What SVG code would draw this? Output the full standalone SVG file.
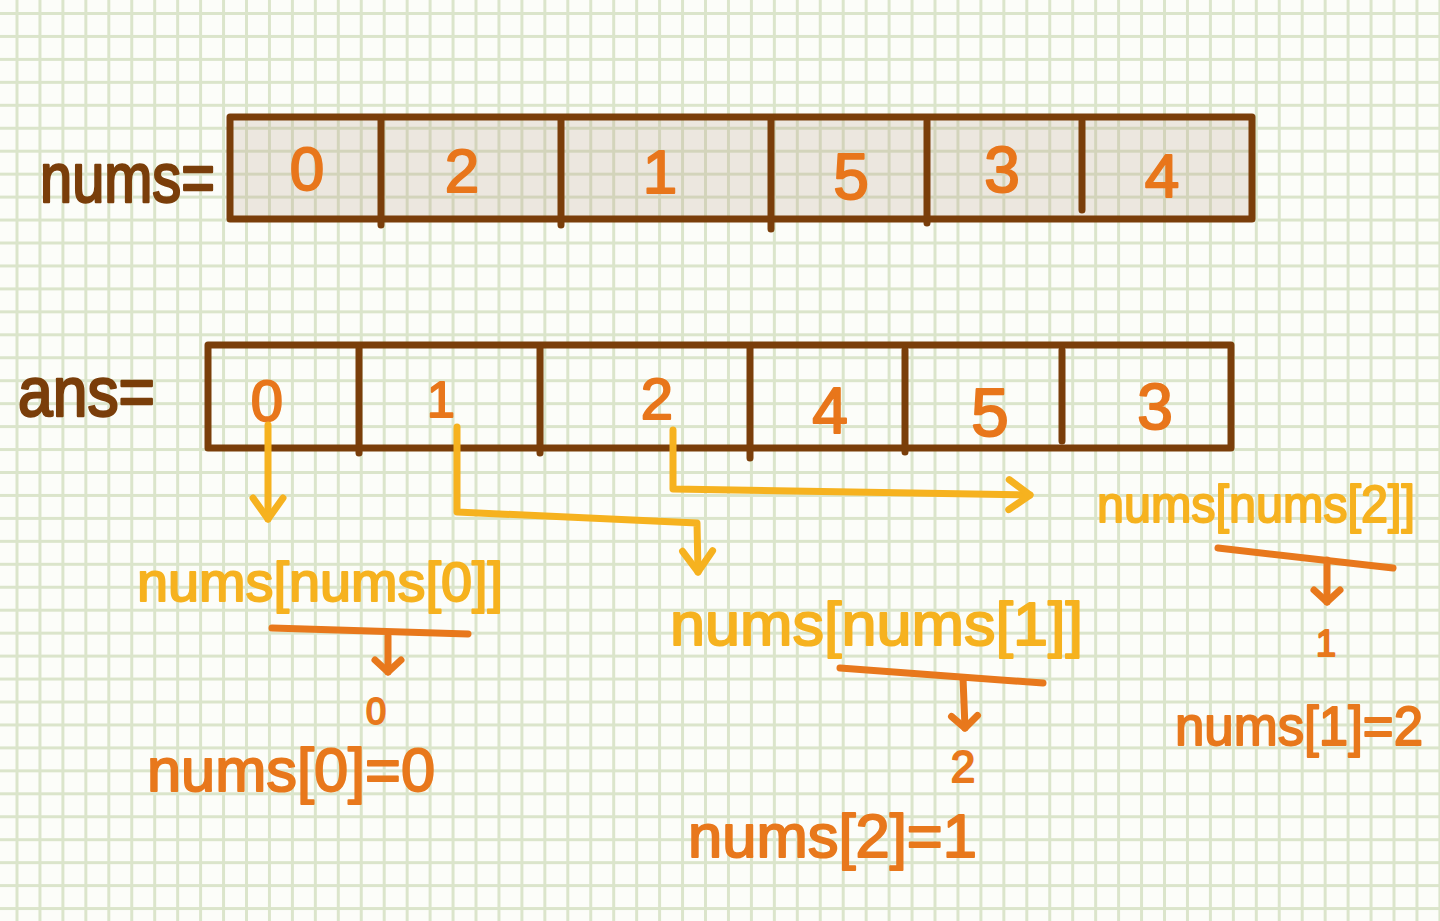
<svg xmlns="http://www.w3.org/2000/svg" width="1440" height="921" viewBox="0 0 1440 921">
  <defs>
    <pattern id="grid" patternUnits="userSpaceOnUse" x="5.525" y="2.025" width="22.95" height="22.95">
      <path d="M11.475,0 V22.95 M0,11.475 H22.95" stroke="#dbe5cb" stroke-width="3" fill="none"/>
    </pattern>
    <marker id="ah-amber" markerUnits="userSpaceOnUse" viewBox="-30 -20 40 40" refX="0" refY="0" markerWidth="40" markerHeight="40" orient="auto" overflow="visible">
      <path d="M-21,-15 L0,0 L-21,15" fill="none" stroke="#f6b21f" stroke-width="7" stroke-linecap="round" stroke-linejoin="round"/>
    </marker>
    <marker id="ah-orange" markerUnits="userSpaceOnUse" viewBox="-30 -20 40 40" refX="0" refY="0" markerWidth="40" markerHeight="40" orient="auto" overflow="visible">
      <path d="M-12,-13 L0,0 L-12,13" fill="none" stroke="#e8781c" stroke-width="7" stroke-linecap="round" stroke-linejoin="round"/>
    </marker>
  </defs>
  <style>
    .box { fill: none; stroke: #7a3e0a; stroke-width: 7; stroke-linecap: round; stroke-linejoin: round; }
    .shade { fill: #b49c82; fill-opacity: 0.22; }
    .lbl { font-family: "Liberation Sans", Arial, sans-serif; fill: #7a3e0a; stroke: #7a3e0a; stroke-width: 2.5; stroke-linejoin: round; }
    .dig { font-family: "Liberation Sans", Arial, sans-serif; fill: #e8761b; stroke: #e8761b; stroke-width: 2; stroke-linejoin: round; text-anchor: middle; }
    .expr { font-family: "Liberation Sans", Arial, sans-serif; fill: #f6b21f; stroke: #f6b21f; stroke-width: 2; stroke-linejoin: round; }
    .res { font-family: "Liberation Sans", Arial, sans-serif; fill: #e8781c; stroke: #e8781c; stroke-width: 2; stroke-linejoin: round; }
    .amber { fill: none; stroke: #f6b21f; stroke-width: 7; stroke-linecap: round; stroke-linejoin: round; }
    .orng { fill: none; stroke: #e8781c; stroke-width: 7; stroke-linecap: round; stroke-linejoin: round; }
  </style>

  <rect x="0" y="0" width="1440" height="921" fill="#fcfdf9"/>
  <rect x="0" y="0" width="1440" height="921" fill="url(#grid)"/>

  <g id="nums-array">
    <rect class="shade" x="230" y="117" width="1022" height="102"/>
    <rect class="box" x="230" y="117" width="1022" height="102"/>
    <path class="box" d="M381,119 V225 M561,119 V225 M771,119 V229 M927,121 V223 M1082,121 V210"/>
    <text class="dig" x="307" y="190" font-size="62">0</text>
    <text class="dig" x="462" y="192" font-size="62">2</text>
    <text class="dig" x="660" y="193" font-size="62">1</text>
    <text class="dig" x="851" y="199" font-size="64">5</text>
    <text class="dig" x="1002" y="192" font-size="64">3</text>
    <text class="dig" x="1162" y="197" font-size="62">4</text>
  </g>
  <g id="nums-label">
    <text class="lbl" x="40" y="202" font-size="70" textLength="175" lengthAdjust="spacingAndGlyphs">nums=</text>
  </g>

  <g id="ans-array">
    <rect class="box" x="208" y="345" width="1023" height="103"/>
    <path class="box" d="M359,347 V453 M540,347 V453 M750,347 V458 M905,350 V452 M1062,350 V441"/>
    <text class="dig" x="267" y="421" font-size="58">0</text>
    <text class="dig" x="441" y="417" font-size="50">1</text>
    <text class="dig" x="657" y="419" font-size="58">2</text>
    <text class="dig" x="830" y="433" font-size="64">4</text>
    <text class="dig" x="990" y="436" font-size="68">5</text>
    <text class="dig" x="1155" y="429" font-size="64">3</text>
  </g>
  <g id="ans-label">
    <text class="lbl" x="18" y="416" font-size="70" textLength="137" lengthAdjust="spacingAndGlyphs">ans=</text>
  </g>

  <g id="connectors">
    <path class="amber" d="M268,425 L268,519" marker-end="url(#ah-amber)"/>
    <path class="amber" d="M457,427 L457,512 L697,523 L698,572" marker-end="url(#ah-amber)"/>
    <path class="amber" d="M673,430 L673,489 L1030,495" marker-end="url(#ah-amber)"/>
    <path class="orng" d="M272,628 L468,634"/>
    <path class="orng" d="M388,636 L388,672" marker-end="url(#ah-orange)"/>
    <path class="orng" d="M840,668 L1043,683"/>
    <path class="orng" d="M963,678 L965,728" marker-end="url(#ah-orange)"/>
    <path class="orng" d="M1218,548 L1393,568"/>
    <path class="orng" d="M1327,560 L1327,602" marker-end="url(#ah-orange)"/>
  </g>

  <g id="expr0">
    <text class="expr" x="137" y="601" font-size="56" textLength="366" lengthAdjust="spacingAndGlyphs">nums[nums[0]]</text>
  </g>
  <g id="result0">
    <text class="res" x="376" y="724" font-size="36" text-anchor="middle">0</text>
    <text class="res" x="147" y="791" font-size="62" textLength="288" lengthAdjust="spacingAndGlyphs">nums[0]=0</text>
  </g>

  <g id="expr1">
    <text class="expr" x="670" y="645" font-size="62" textLength="413" lengthAdjust="spacingAndGlyphs">nums[nums[1]]</text>
  </g>
  <g id="result1">
    <text class="res" x="963" y="782" font-size="44" text-anchor="middle">2</text>
    <text class="res" x="688" y="857" font-size="62" textLength="289" lengthAdjust="spacingAndGlyphs">nums[2]=1</text>
  </g>

  <g id="expr2">
    <text class="expr" x="1097" y="522" font-size="52" textLength="318" lengthAdjust="spacingAndGlyphs">nums[nums[2]]</text>
  </g>
  <g id="result2">
    <text class="res" x="1326" y="656" font-size="36" text-anchor="middle">1</text>
    <text class="res" x="1175" y="745" font-size="56" textLength="248" lengthAdjust="spacingAndGlyphs">nums[1]=2</text>
  </g>
</svg>
